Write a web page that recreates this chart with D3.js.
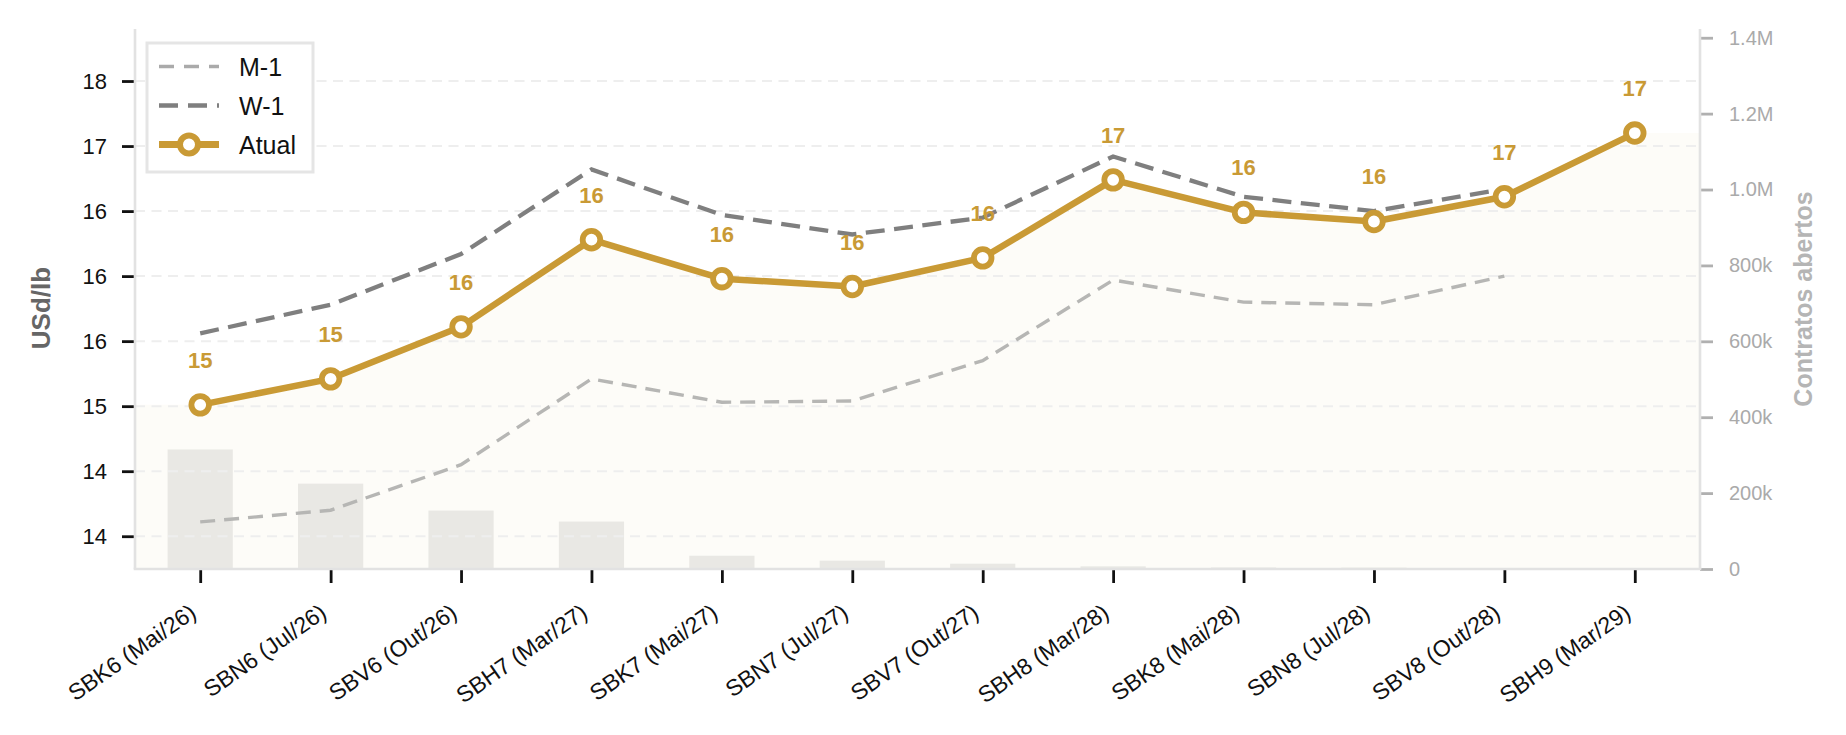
<!DOCTYPE html>
<html><head><meta charset="utf-8">
<script src="https://cdn.jsdelivr.net/npm/d3@7"></script>
<style>
body{margin:0;background:#fff;}
text{font-family:"Liberation Sans",Arial,Helvetica,sans-serif;}
</style>
</head><body>
<svg id="chart" width="1846" height="735"></svg>
<script>
const categories = ["SBK6 (Mai/26)","SBN6 (Jul/26)","SBV6 (Out/26)","SBH7 (Mar/27)","SBK7 (Mai/27)","SBN7 (Jul/27)","SBV7 (Out/27)","SBH8 (Mar/28)","SBK8 (Mai/28)","SBN8 (Jul/28)","SBV8 (Out/28)","SBH9 (Mar/29)"];
const atual = [15.01,15.21,15.61,16.28,15.98,15.92,16.14,16.74,16.49,16.42,16.61,17.10];
const w1 = [15.56,15.78,16.17,16.82,16.47,16.32,16.45,16.92,16.61,16.50,16.67,null];
const m1 = [14.11,14.20,14.55,15.21,15.03,15.04,15.35,15.97,15.80,15.78,16.00,null];
const openInterest = [315000,225000,154000,125000,35000,22000,14000,7000,4000,3500,1000,0];
const leftTicks = [14,14.5,15,15.5,16,16.5,17,17.5];
const rightTicks = [0,200000,400000,600000,800000,1000000,1200000,1400000];
const seriesNames = ["M-1","W-1","Atual"];

const GOLD = "#c99a35", W1C = "#7f7f7f", M1C = "#b6b6b4";
const L = 135, R = 1700, T = 29, B = 569;

const svg = d3.select("#chart");
const x = d3.scalePoint().domain(categories).range([L, R]).padding(0.5);
const xb = d3.scaleBand().domain(categories).range([L, R]).paddingInner(0.5).paddingOuter(0.25);
const y = d3.scaleLinear().domain([13.748, 17.90]).range([B, T]);
const y2 = d3.scaleLinear().domain([0, 1423000]).range([B, T]);

function roundHalfEven(v){
  const f = Math.floor(v), d = v - f;
  if (Math.abs(d - 0.5) < 1e-9) return (f % 2 === 0) ? f : f + 1;
  return Math.round(v);
}
function fmtOI(v){
  if (v === 0) return "0";
  if (v >= 1e6) return (v/1e6).toFixed(1) + "M";
  return (v/1e3).toFixed(0) + "k";
}

// cream fill under Atual extended to the edges
const idx = d3.range(categories.length);
const fillPts = [[L, y(atual[0])]].concat(idx.map(i => [x(categories[i]), y(atual[i])])).concat([[R, y(atual[atual.length-1])]]);
svg.append("path")
  .attr("d", d3.area().x(d => d[0]).y0(B).y1(d => d[1])(fillPts))
  .attr("fill", "#fdfcf8");

// bars
svg.append("g").selectAll("rect").data(idx).join("rect")
  .attr("x", i => xb(categories[i]))
  .attr("width", xb.bandwidth())
  .attr("y", i => y2(openInterest[i]))
  .attr("height", i => B - y2(openInterest[i]))
  .attr("fill", "#e9e8e4");

// grid
svg.append("g").selectAll("line").data(leftTicks).join("line")
  .attr("x1", L).attr("x2", R)
  .attr("y1", d => y(d)).attr("y2", d => y(d))
  .attr("stroke", "#eeeeee").attr("stroke-width", 2).attr("stroke-dasharray", "10,6.5");

// lines
const lineGen = d3.line().defined(d => d.v != null).x(d => x(d.c)).y(d => y(d.v));
function pts(arr){ return idx.map(i => ({c: categories[i], v: arr[i]})); }
svg.append("path").attr("d", lineGen(pts(m1)))
  .attr("fill","none").attr("stroke", M1C).attr("stroke-width", 3.4).attr("stroke-dasharray","15,9");
svg.append("path").attr("d", lineGen(pts(w1)))
  .attr("fill","none").attr("stroke", W1C).attr("stroke-width", 4.3).attr("stroke-dasharray","19,9.5");
svg.append("path").attr("d", lineGen(pts(atual)))
  .attr("fill","none").attr("stroke", GOLD).attr("stroke-width", 6.5).attr("stroke-linejoin","round");
svg.append("g").selectAll("circle").data(idx).join("circle")
  .attr("cx", i => x(categories[i])).attr("cy", i => y(atual[i])).attr("r", 8.8)
  .attr("fill", "#fff").attr("stroke", GOLD).attr("stroke-width", 5.8);
svg.append("g").selectAll("text").data(idx).join("text")
  .attr("x", i => x(categories[i])).attr("y", i => y(atual[i]) - 37)
  .attr("text-anchor", "middle").attr("font-size", 22).attr("font-weight", "bold")
  .attr("fill", GOLD)
  .text(i => roundHalfEven(atual[i]));

// left axis
const gl = svg.append("g").attr("transform", `translate(${L},0)`)
  .call(d3.axisLeft(y).tickValues(leftTicks).tickFormat(roundHalfEven).tickSize(13).tickPadding(15).tickSizeOuter(0));
gl.select(".domain").remove();
gl.selectAll(".tick line").attr("stroke", "#111").attr("stroke-width", 2.8);
gl.selectAll(".tick text").attr("font-size", 22).attr("fill", "#111").attr("font-family", null);

// right axis
const gr = svg.append("g").attr("transform", `translate(${R},0)`)
  .call(d3.axisRight(y2).tickValues(rightTicks).tickFormat(fmtOI).tickSize(13).tickPadding(16).tickSizeOuter(0));
gr.select(".domain").remove();
gr.selectAll(".tick line").attr("stroke", "#b0b0b0").attr("stroke-width", 2.8);
gr.selectAll(".tick text").attr("font-size", 20).attr("fill", "#aaaaaa").attr("font-family", null);

// bottom axis
const gb = svg.append("g").attr("transform", `translate(0,${B})`)
  .call(d3.axisBottom(x).tickSize(14).tickSizeOuter(0));
gb.select(".domain").remove();
gb.selectAll(".tick line").attr("stroke", "#111").attr("stroke-width", 2.8);
gb.selectAll(".tick text")
  .attr("font-size", 23).attr("fill", "#111").attr("font-family", null)
  .attr("y", null).attr("dy", null).attr("x", null)
  .attr("text-anchor", "end")
  .attr("transform", "translate(-3,47) rotate(-35)");

// spines
const sp = svg.append("g").attr("stroke", "#e2e2e2").attr("stroke-width", 2.6);
sp.append("line").attr("x1", L).attr("x2", L).attr("y1", T).attr("y2", B);
sp.append("line").attr("x1", R).attr("x2", R).attr("y1", T).attr("y2", B);
sp.append("line").attr("x1", L - 1.3).attr("x2", R + 1.3).attr("y1", B).attr("y2", B);

// axis titles
svg.append("text").attr("transform", `translate(50,308) rotate(-90)`)
  .attr("text-anchor", "middle").attr("font-size", 26).attr("font-weight", "bold")
  .attr("fill", "#666").text("USd/lb");
svg.append("text").attr("transform", `translate(1812,${(T+B)/2}) rotate(-90)`)
  .attr("text-anchor", "middle").attr("font-size", 25).attr("font-weight", "bold")
  .attr("fill", "#b5b5b5").text("Contratos abertos");

// legend
const lg = svg.append("g");
lg.append("rect").attr("x", 147).attr("y", 43).attr("width", 166).attr("height", 129)
  .attr("fill", "#fff").attr("stroke", "#e5e5e5").attr("stroke-width", 3);
const rowsY = [66.5, 105.5, 144.5];
const styles = [
  {c: "#aaaaaa", w: 3.6, d: "15,10"},
  {c: W1C, w: 4.3, d: "19,10"},
  {c: GOLD, w: 6.8, d: null}
];
seriesNames.forEach((n, k) => {
  const ln = lg.append("line").attr("x1", 159).attr("x2", 219).attr("y1", rowsY[k]).attr("y2", rowsY[k])
    .attr("stroke", styles[k].c).attr("stroke-width", styles[k].w);
  if (styles[k].d) ln.attr("stroke-dasharray", styles[k].d);
  if (n === "Atual") lg.append("circle").attr("cx", 189).attr("cy", rowsY[k]).attr("r", 9)
    .attr("fill", "#fff").attr("stroke", GOLD).attr("stroke-width", 6);
  lg.append("text").attr("x", 239).attr("y", rowsY[k]).attr("dy", "0.36em")
    .attr("font-size", 25).attr("fill", "#111").text(n);
});
</script>
</body></html>
